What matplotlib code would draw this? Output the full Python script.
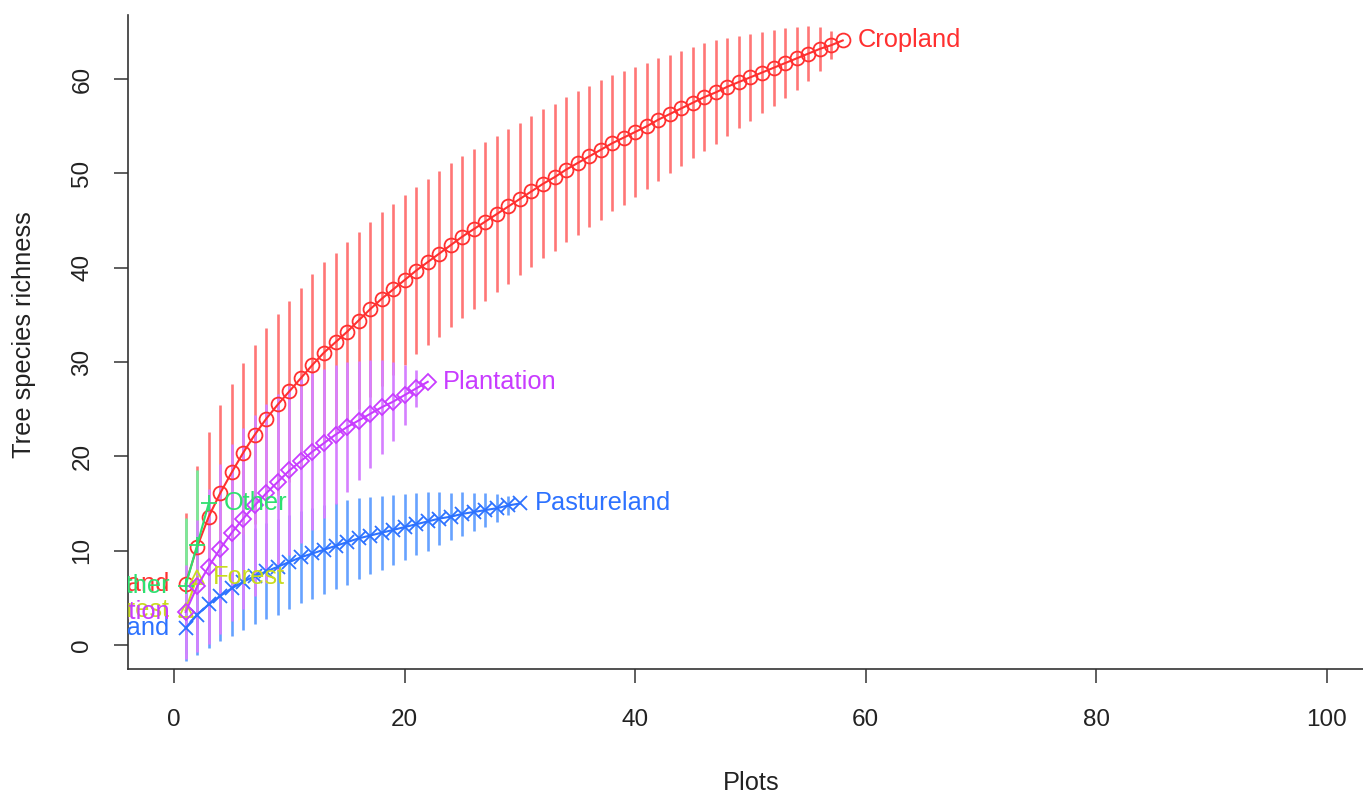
import numpy as np
import matplotlib
matplotlib.use("Agg")
import matplotlib.pyplot as plt

plt.rcParams['font.family'] = ['Liberation Sans', 'DejaVu Sans']

# ---------------- data ----------------
names = ["Cropland", "Forest", "Other", "Pastureland", "Plantation"]

cropland_rich = [6.5, 10.4, 13.6, 16.1, 18.3, 20.4, 22.3, 24.0, 25.5, 26.9,
                 28.3, 29.7, 31.0, 32.1, 33.2, 34.4, 35.6, 36.7, 37.7, 38.7,
                 39.7, 40.6, 41.5, 42.4, 43.3, 44.1, 44.9, 45.7, 46.5, 47.3,
                 48.1, 48.9, 49.6, 50.4, 51.1, 51.8, 52.5, 53.2, 53.8, 54.4,
                 55.0, 55.7, 56.3, 56.9, 57.5, 58.1, 58.6, 59.2, 59.7, 60.2,
                 60.7, 61.2, 61.7, 62.2, 62.7, 63.2, 63.6, 64.1]
cropland_ci = [7.5, 8.6, 9.0, 9.3, 9.4, 9.5, 9.5, 9.6, 9.6, 9.6,
               9.6, 9.6, 9.6, 9.5, 9.5, 9.4, 9.3, 9.2, 9.1, 9.0,
               8.9, 8.8, 8.8, 8.7, 8.6, 8.5, 8.4, 8.3, 8.2, 8.1,
               8.0, 7.9, 7.8, 7.7, 7.6, 7.5, 7.4, 7.2, 7.1, 6.9,
               6.7, 6.5, 6.3, 6.1, 5.9, 5.7, 5.5, 5.2, 4.9, 4.6,
               4.3, 4.0, 3.7, 3.3, 2.9, 2.3, 1.5, 0.0]

forest_rich = [3.7, 7.2]
forest_ci = [2.0, 0.0]

other_rich = [6.3, 10.6, 15.0]
other_ci = [7.2, 8.0, 0.0]

pasture_rich = [1.8, 3.2, 4.3, 5.2, 6.0, 6.7, 7.3, 7.8, 8.3, 8.8,
                9.3, 9.7, 10.1, 10.5, 10.9, 11.3, 11.6, 11.9, 12.2, 12.5,
                12.8, 13.1, 13.4, 13.6, 13.9, 14.1, 14.3, 14.5, 14.8, 15.0]
pasture_ci = [3.5, 4.3, 4.6, 4.8, 5.0, 5.1, 5.1, 5.1, 5.1, 5.0,
              4.9, 4.8, 4.7, 4.6, 4.5, 4.3, 4.1, 3.9, 3.7, 3.5,
              3.3, 3.1, 2.8, 2.5, 2.3, 2.0, 1.8, 1.5, 1.0, 0.0]

plantation_rich = [3.5, 6.2, 8.3, 10.2, 11.9, 13.4, 14.8, 16.1, 17.3, 18.5,
                   19.5, 20.5, 21.4, 22.3, 23.1, 23.8, 24.5, 25.2, 25.8, 26.5,
                   27.2, 27.9]
plantation_ci = [5.0, 7.0, 8.2, 9.0, 9.4, 9.6, 9.6, 9.5, 9.3, 9.0,
                 8.7, 8.3, 7.9, 7.4, 6.9, 6.3, 5.7, 5.0, 4.2, 3.2,
                 2.0, 0.0]

richness = [cropland_rich, forest_rich, other_rich, pasture_rich, plantation_rich]
ci_half = [cropland_ci, forest_ci, other_ci, pasture_ci, plantation_ci]

x_ticks = [0, 20, 40, 60, 80, 100]
y_ticks = [0, 10, 20, 30, 40, 50, 60]

# ---------------- style ----------------
line_cols = ["#FF3030", "#C8DC1E", "#2EE070", "#2D72FF", "#C83CFF"]
bar_cols = ["#FF7676", "#DDEE70", "#74EE9A", "#66A2FF", "#D580FF"]
markers = ["o", "^", "+", "x", "D"]
msizes = [10, 10, 12, 10, 8]

W, H = 1363, 794
fig = plt.figure(figsize=(W / 100, H / 100), dpi=100)
left_px, right_px, top_px, bottom_px = 128, 1373, 15, 669
ax = fig.add_axes([left_px / W, 1 - bottom_px / H,
                   (right_px - left_px) / W, (bottom_px - top_px) / H])
ax.set_xlim(-4, 104)
ax.set_ylim(-2.55, 66.8)

# CI bars first
for rich, ci, bc in zip(richness, ci_half, bar_cols):
    x = np.arange(1, len(rich) + 1)
    r = np.array(rich)
    c = np.array(ci)
    m = c > 0
    ax.vlines(x[m], r[m] - c[m], r[m] + c[m], colors=bc, lw=1.9, zorder=2)

# lines and markers
for rich, lc, mk, ms in zip(richness, line_cols, markers, msizes):
    x = np.arange(1, len(rich) + 1)
    ax.plot(x, rich, color=lc, lw=1.5, marker=mk, markersize=ms,
            markerfacecolor="none", markeredgecolor=lc, markeredgewidth=1.3,
            zorder=3)

# labels at start (left, clipped) and end (right)
for name, rich, lc in zip(names, richness, line_cols):
    n = len(rich)
    t1 = ax.annotate(name, xy=(1, rich[0]), xytext=(-11, 0),
                     textcoords="offset points", ha="right", va="center",
                     color=lc, fontsize=18.3, annotation_clip=False, zorder=4)
    t1.set_clip_on(True)
    t1.set_clip_box(ax.bbox)
    ax.annotate(name, xy=(n, rich[-1]), xytext=(11, 0),
                textcoords="offset points", ha="left", va="center",
                color=lc, fontsize=18.3, zorder=4)

# axes styling
for s in ["top", "right"]:
    ax.spines[s].set_visible(False)
for s in ["left", "bottom"]:
    ax.spines[s].set_color("#333333")
    ax.spines[s].set_linewidth(1.2)

ax.set_xticks(x_ticks)
ax.set_yticks(y_ticks)
ax.set_xticklabels([str(v) for v in x_ticks])
ax.set_yticklabels([str(v) for v in y_ticks], rotation=90, va="center")
ax.tick_params(axis="both", length=10, width=1.1, color="#333333",
               labelsize=17.5, labelcolor="#222222")
ax.tick_params(axis="x", pad=19)
ax.tick_params(axis="y", pad=15)

fig.text(751 / W, 1 - 783 / H, "Plots", ha="center", va="center",
         fontsize=18.3, color="#222222")
fig.text(24 / W, 1 - 335 / H, "Tree species richness", ha="center",
         va="center", rotation=90, fontsize=18.3, color="#222222")

fig.savefig("out.png", dpi=100)
